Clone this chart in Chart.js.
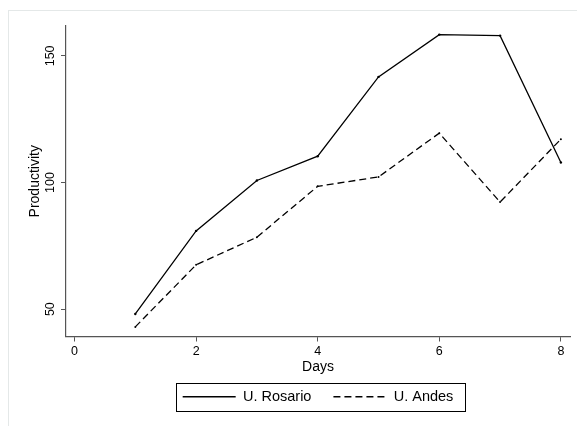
<!DOCTYPE html>
<html>
<head>
<meta charset="utf-8">
<script src="https://cdn.jsdelivr.net/npm/chart.js@4/dist/chart.umd.min.js"></script>
<style>
  html, body { margin: 0; padding: 0; background: #ffffff; }
  #wrap { width: 577px; height: 426px; }
</style>
</head>
<body>
<div id="wrap"><canvas id="c" width="577" height="426"></canvas></div>
<script>
const days = [1, 2, 3, 4, 5, 6, 7, 8];
const rosario = [48.1, 80.9, 100.8, 110.4, 141.7, 158.4, 158.0, 107.9];
const andes = [43.0, 67.5, 78.4, 98.5, 102.2, 119.5, 92.3, 117.1];
const xTicks = [0, 2, 4, 6, 8];
const yTicks = [50, 100, 150];
const seriesNames = ['U. Rosario', 'U. Andes'];

const FONT = "'Liberation Sans', Arial, Helvetica, sans-serif";
const AXIS = '#555555';

const frame = {
  id: 'frame',
  beforeDraw(chart) {
    const ctx = chart.ctx;
    ctx.save();
    ctx.fillStyle = '#ffffff';
    ctx.fillRect(0, 0, chart.width, chart.height);
    ctx.strokeStyle = '#e4e8e8';
    ctx.lineWidth = 1;
    ctx.strokeRect(8.5, 10.5, chart.width + 20, chart.height + 20);
    ctx.restore();
  }
};

const legendBorder = {
  id: 'legendBorder',
  afterDraw(chart) {
    const lg = chart.legend;
    if (!lg || !lg.legendHitBoxes || !lg.legendHitBoxes.length) return;
    const hb = lg.legendHitBoxes;
    let l = Infinity, r = -Infinity, t = Infinity, b = -Infinity;
    hb.forEach(h => {
      l = Math.min(l, h.left); r = Math.max(r, h.left + h.width);
      t = Math.min(t, h.top); b = Math.max(b, h.top + h.height);
    });
    const ctx = chart.ctx;
    ctx.save();
    ctx.strokeStyle = '#000000';
    ctx.lineWidth = 1;
    ctx.setLineDash([]);
    ctx.strokeRect(Math.round(l - 7) + 0.5, Math.round(t - 7) + 0.5, Math.round(r - l + 18), Math.round(b - t + 13));
    ctx.restore();
  }
};

const toXY = arr => arr.map((v, i) => ({ x: days[i], y: v }));

new Chart(document.getElementById('c'), {
  type: 'line',
  data: {
    datasets: [
      {
        label: seriesNames[0],
        data: toXY(rosario),
        borderColor: '#000000',
        backgroundColor: '#000000',
        borderWidth: 1.3,
        pointRadius: 1.2,
        pointBorderWidth: 0,
        pointBackgroundColor: '#000000',
        fill: false,
        tension: 0
      },
      {
        label: seriesNames[1],
        data: toXY(andes),
        borderColor: '#000000',
        backgroundColor: '#000000',
        borderWidth: 1.3,
        borderDash: [7, 4],
        pointRadius: 1.0,
        pointBorderWidth: 0,
        pointBackgroundColor: '#000000',
        fill: false,
        tension: 0
      }
    ]
  },
  options: {
    responsive: false,
    animation: false,
    events: [],
    layout: { padding: { top: 26, right: 7, bottom: 12, left: 0 } },
    plugins: {
      tooltip: { enabled: false },
      legend: {
        display: true,
        position: 'bottom',
        fullSize: false,
        align: 'center',
        labels: {
          usePointStyle: true,
          pointStyle: 'line',
          pointStyleWidth: 53,
          padding: 22,
          color: '#000000',
          font: { family: FONT, size: 14.5 },
          generateLabels: chart => chart.data.datasets.map((ds, i) => ({
            text: ds.label,
            strokeStyle: '#000000',
            fillStyle: '#000000',
            fontColor: '#000000',
            lineWidth: 1.3,
            lineDash: ds.borderDash || [],
            lineCap: 'butt',
            pointStyle: 'line',
            hidden: false,
            datasetIndex: i
          }))
        }
      }
    },
    scales: {
      x: {
        type: 'linear',
        min: -0.14,
        max: 8.15,
        afterBuildTicks: s => { s.ticks = xTicks.map(v => ({ value: v })); },
        afterFit: s => { s.height = 31; },
        border: { display: true, color: AXIS, width: 1.2 },
        grid: { display: true, drawOnChartArea: false, drawTicks: true, tickLength: 5, color: AXIS, lineWidth: 1 },
        ticks: { color: '#000000', font: { family: FONT, size: 12.5 }, padding: 2.5, maxRotation: 0, autoSkip: false },
        title: { display: true, text: 'Days', color: '#000000', font: { family: FONT, size: 14 }, padding: { top: 0, bottom: -8 } }
      },
      y: {
        type: 'linear',
        min: 39.2,
        max: 161.8,
        afterBuildTicks: s => { s.ticks = yTicks.map(v => ({ value: v })); },
        afterFit: s => { s.width = 66; },
        border: { display: true, color: AXIS, width: 1.2 },
        grid: { display: true, drawOnChartArea: false, drawTicks: true, tickLength: 5, color: AXIS, lineWidth: 1 },
        ticks: { color: '#000000', font: { family: FONT, size: 12.5 }, padding: 0, minRotation: 90, maxRotation: 90, crossAlign: 'center', autoSkip: false },
        title: { display: true, text: 'Productivity', color: '#000000', font: { family: FONT, size: 14 }, padding: { top: 27, bottom: 0 } }
      }
    }
  },
  plugins: [frame, legendBorder]
});
</script>
</body>
</html>
